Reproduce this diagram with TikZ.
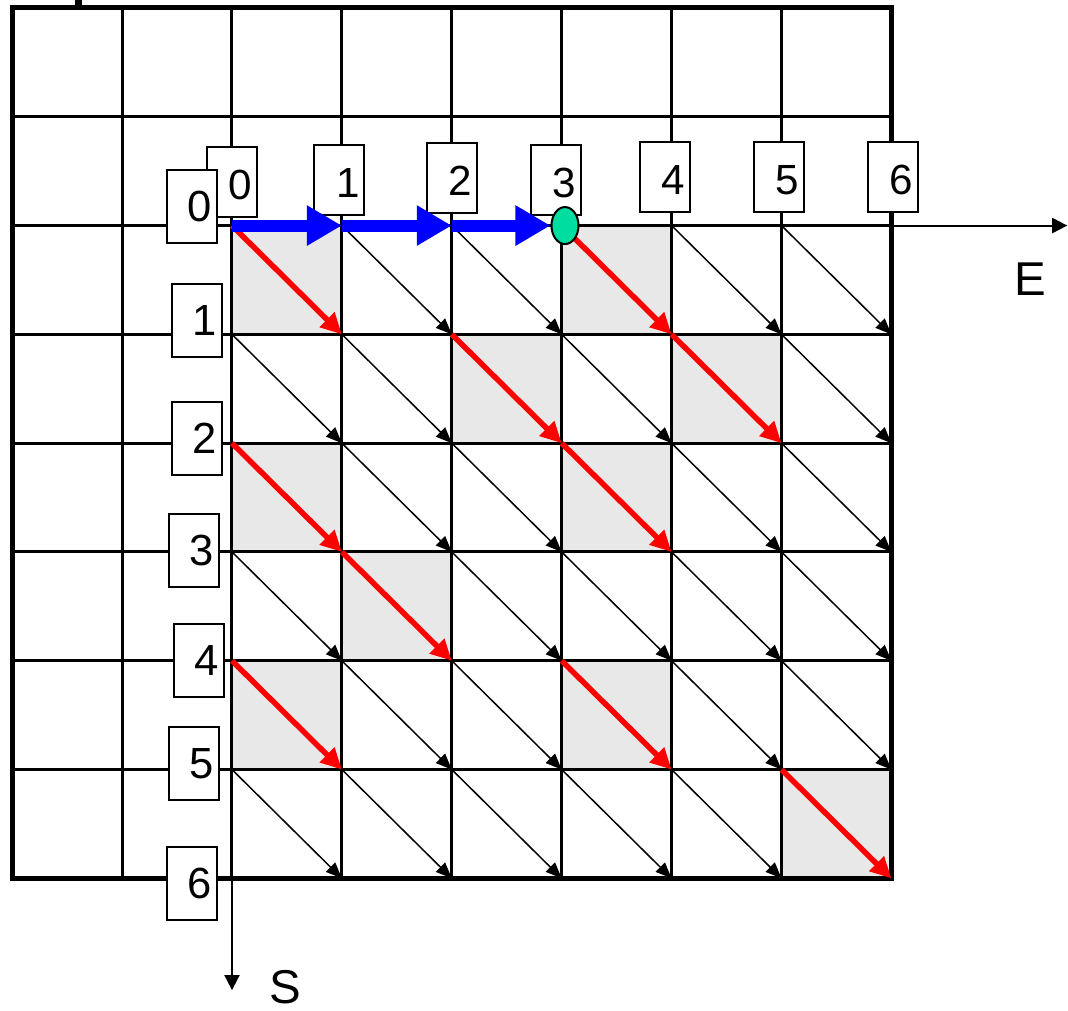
\documentclass[tikz,border=0pt]{standalone}
\usepackage{fontspec}
\setmainfont{Liberation Sans}
\usepackage{xcolor}
\usetikzlibrary{arrows.meta, shapes.geometric}

\definecolor{cellgray}{RGB}{232,232,232}
\definecolor{mint}{RGB}{0,221,160}

\tikzset{
  gridline/.style={line width=0.03cm},
  board/.style={line width=0.05cm},
  colbox/.style={draw, fill=white, line width=0.02cm, inner xsep=0.05cm, inner ysep=0pt,
    text width=0.4cm, align=right, text height=0.525cm, text depth=0.175cm,
    font=\fontsize{12}{13}\selectfont},
  rowbox/.style={colbox, text height=0.515cm, text depth=0.215cm,
    font=\fontsize{12.4}{13}\selectfont},
  diag/.style={line width=0.015cm, -{Triangle[length=0.16cm,width=0.13cm]}},
  redstep/.style={red, line width=0.055cm, -{Triangle[length=0.21cm,width=0.2cm]}},
  bluestep/.style={blue, line width=0.12cm, -{Triangle[length=0.35cm,width=0.38cm]}},
  axis/.style={line width=0.02cm, -{Triangle[length=0.15cm,width=0.15cm]}},
  axislabel/.style={font=\fontsize{13.5}{15}\selectfont}
}

\begin{document}
\begin{tikzpicture}[x=1.099cm, y=1.088cm]
\useasboundingbox (-2.111,-7.210) rectangle (7.607,2.073);
% grid points
\foreach \i in {0,...,6}
  \foreach \j in {0,...,6}
    \coordinate (p\i\j) at (\i,-\j);
% shaded cells
\foreach \i/\j in {0/0,3/0,2/1,4/1,0/2,3/2,1/3,0/4,3/4,5/5}
  \fill[cellgray] (\i,-\j) rectangle ++(1,-1);
% board
\foreach \k in {-1,...,5}
  \draw[gridline] (\k,2) -- (\k,-6);
\foreach \k in {-5,...,1}
  \draw[gridline] (-2,\k) -- (6,\k);
\draw[board] (-2,2) rectangle (6,-6);
\fill (-1.429,2.073) rectangle (-1.365,2);
% axes
\coordinate (eend) at (7.6,0);
\coordinate (send) at (0,-7.027);
\draw[axis] (p00) -- (eend);
\draw[axis] (p00) -- (send);
\node[axislabel] (elabel) at (7.262,-0.496) {E};
\node[axislabel] (slabel) at (0.482,-7.0) {S};
% black diagonals
\foreach \j/\cols in {0/{1,2,4,5},1/{0,1,3,5},2/{1,2,4,5},3/{0,2,3,4,5},4/{1,2,4,5},5/{0,1,2,3,4}}
  \foreach \i in \cols {
    \pgfmathtruncatemacro\ni{\i+1}
    \pgfmathtruncatemacro\nj{\j+1}
    \draw[diag] (p\i\j) -- (p\ni\nj);
  }
% red diagonals
\foreach \i/\j in {0/0,3/0,2/1,4/1,0/2,3/2,1/3,0/4,3/4,5/5} {
  \pgfmathtruncatemacro\ni{\i+1}
  \pgfmathtruncatemacro\nj{\j+1}
  \draw[redstep] (p\i\j) -- (p\ni\nj);
}
% labels
\foreach \n/\x/\y in {0/0/0.40,1/0.978/0.418,2/2.002/0.437,3/2.944/0.418,4/3.94/0.45,5/4.977/0.45,6/6.01/0.45}
  \node[colbox] (c\n) at (\x,\y) {\n};
\foreach \n/\x/\y in {0/-0.364/0.175,1/-0.318/-0.869,2/-0.318/-1.958,3/-0.346/-2.987,4/-0.30/-3.998,5/-0.346/-4.945,6/-0.364/-6.048}
  \node[rowbox] (r\n) at (\x,\y) {\n};
% blue moves
\node[ellipse, draw, fill=mint, line width=0.02cm, minimum width=0.27cm, minimum height=0.37cm, inner sep=0pt] (cur) at (3.03,0) {};
\draw[bluestep] (p00) -- (p10);
\draw[bluestep] (p10) -- (p20);
\draw[bluestep] (p20) -- (cur);
\end{tikzpicture}
\end{document}
